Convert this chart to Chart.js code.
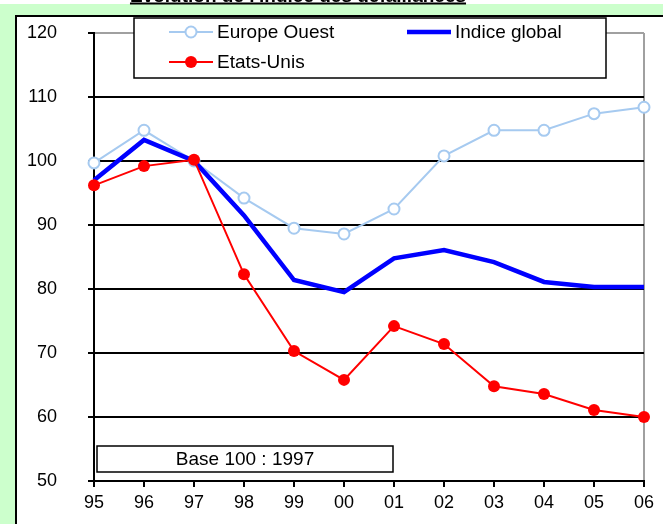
<!DOCTYPE html>
<html>
<head>
<meta charset="utf-8">
<script src="https://cdn.jsdelivr.net/npm/chart.js@4.4.1/dist/chart.umd.min.js"></script>
<style>
  html, body { margin: 0; padding: 0; background: #CCFFCC; }
  #wrap { width: 663px; height: 524px; position: relative; }
</style>
</head>
<body>
<div id="wrap"><canvas id="c" width="663" height="524"></canvas></div>
<script>
const titleText = "Evolution de l'indice des défaillances";
const baseText = "Base 100 : 1997";
const years = ["95", "96", "97", "98", "99", "00", "01", "02", "03", "04", "05", "06"];
const yTicks = [50, 60, 70, 80, 90, 100, 110, 120];
const europeOuest = [99.7, 104.8, 100.0, 94.2, 89.5, 88.6, 92.5, 100.8, 104.8, 104.8, 107.4, 108.4];
const indiceGlobal = [97.0, 103.3, 100.0, 91.5, 81.4, 79.5, 84.8, 86.1, 84.2, 81.1, 80.3, 80.3];
const etatsUnis = [96.2, 99.2, 100.2, 82.3, 70.3, 65.8, 74.2, 71.4, 64.8, 63.6, 61.1, 60.0];
const seriesNames = ["Europe Ouest", "Indice global", "Etats-Unis"];

const FONT = "'Liberation Sans', Arial, sans-serif";

const frame = {
  id: 'frame',
  beforeDraw(chart) {
    const ctx = chart.ctx;
    ctx.save();
    ctx.fillStyle = '#FFFFFF';
    ctx.fillRect(0, 0, 663, 4);
    ctx.fillStyle = '#CCFFCC';
    ctx.fillRect(0, 4.5, 663, 520);
    ctx.fillStyle = '#FFFFFF';
    ctx.fillRect(16, 16, 647, 508);
    ctx.strokeStyle = '#000';
    ctx.lineWidth = 2;
    ctx.beginPath();
    ctx.moveTo(16, 524); ctx.lineTo(16, 16); ctx.lineTo(663, 16);
    ctx.stroke();
    ctx.font = "bold 19px " + FONT;
    ctx.fillStyle = '#000';
    ctx.textAlign = 'center';
    ctx.textBaseline = 'alphabetic';
    ctx.fillText(titleText, 298, 2);
    const w = ctx.measureText(titleText).width;
    ctx.fillRect(298 - w / 2, 2.5, w, 2);
    ctx.restore();
  },
  afterDraw(chart) {
    const ctx = chart.ctx;
    ctx.save();
    ctx.fillStyle = '#FFFFFF';
    ctx.fillRect(134, 18, 472, 60);
    ctx.strokeStyle = '#000';
    ctx.lineWidth = 1.5;
    ctx.strokeRect(134, 18, 472, 60);
    const items = [
      { ds: 0, x: 169, y: 32 },
      { ds: 1, x: 407, y: 32 },
      { ds: 2, x: 169, y: 62 }
    ];
    ctx.font = "19px " + FONT;
    ctx.textBaseline = 'middle';
    ctx.textAlign = 'left';
    items.forEach(it => {
      const d = chart.data.datasets[it.ds];
      ctx.strokeStyle = d.borderColor;
      ctx.lineWidth = d.borderWidth;
      ctx.beginPath();
      ctx.moveTo(it.x, it.y); ctx.lineTo(it.x + 44, it.y);
      ctx.stroke();
      if (d.pointRadius > 0) {
        ctx.beginPath();
        ctx.arc(it.x + 22, it.y, d.pointRadius, 0, Math.PI * 2);
        ctx.fillStyle = d.pointBackgroundColor;
        ctx.fill();
        if (d.pointBorderWidth > 0) {
          ctx.lineWidth = d.pointBorderWidth;
          ctx.strokeStyle = d.pointBorderColor;
          ctx.stroke();
        }
      }
      ctx.fillStyle = '#000';
      ctx.fillText(d.label, it.x + 48, it.y + 1);
    });
    ctx.fillStyle = '#FFFFFF';
    ctx.fillRect(97, 446, 296, 26);
    ctx.strokeStyle = '#000';
    ctx.lineWidth = 1.5;
    ctx.strokeRect(97, 446, 296, 26);
    ctx.fillStyle = '#000';
    ctx.textAlign = 'center';
    ctx.fillText(baseText, 245, 460);
    ctx.restore();
  }
};

new Chart(document.getElementById('c'), {
  type: 'line',
  data: {
    labels: years,
    datasets: [
      {
        label: seriesNames[0], data: europeOuest, order: 2,
        borderColor: '#A6CAF0', borderWidth: 2,
        pointRadius: 5.5, pointBorderWidth: 2,
        pointBackgroundColor: '#FFFFFF', pointBorderColor: '#A6CAF0',
        clip: false, tension: 0
      },
      {
        label: seriesNames[1], data: indiceGlobal, order: 1,
        borderColor: '#0000FF', borderWidth: 4.5,
        pointRadius: 0, pointBorderWidth: 0,
        pointBackgroundColor: '#0000FF', pointBorderColor: '#0000FF',
        clip: false, tension: 0
      },
      {
        label: seriesNames[2], data: etatsUnis, order: 0,
        borderColor: '#FF0000', borderWidth: 2,
        pointRadius: 6, pointBorderWidth: 0,
        pointBackgroundColor: '#FF0000', pointBorderColor: '#FF0000',
        clip: false, tension: 0
      }
    ]
  },
  options: {
    responsive: false,
    animation: false,
    devicePixelRatio: 1,
    layout: { padding: { left: 0, right: 19, top: 33, bottom: 0 } },
    plugins: { legend: { display: false }, tooltip: { enabled: false }, title: { display: false } },
    scales: {
      x: {
        type: 'category',
        offset: false,
        afterFit(s) { s.height = 43; s.paddingLeft = 0; s.paddingRight = 0; },
        grid: {
          offset: false,
          lineWidth: 2,
          color: (c) => c.index === years.length - 1 ? '#A0A0A0' : 'rgba(0,0,0,0)',
          tickColor: '#000',
          tickLength: 6,
          drawOnChartArea: true
        },
        border: { color: '#000', width: 2 },
        ticks: { color: '#000', font: { family: FONT, size: 18 }, padding: 5, maxRotation: 0, autoSkip: false }
      },
      y: {
        min: 50, max: 120,
        afterFit(s) { s.width = 94; s.paddingTop = 0; s.paddingBottom = 0; },
        afterBuildTicks(s) { s.ticks = yTicks.map(v => ({ value: v })); },
        grid: {
          lineWidth: 2,
          color: (c) => c.tick && c.tick.value === 120 ? '#A0A0A0' : '#000',
          tickColor: '#000',
          tickLength: 6
        },
        border: { color: '#000', width: 2 },
        ticks: { color: '#000', font: { family: FONT, size: 18 }, padding: 31 }
      }
    }
  },
  plugins: [frame]
});
</script>
</body>
</html>
